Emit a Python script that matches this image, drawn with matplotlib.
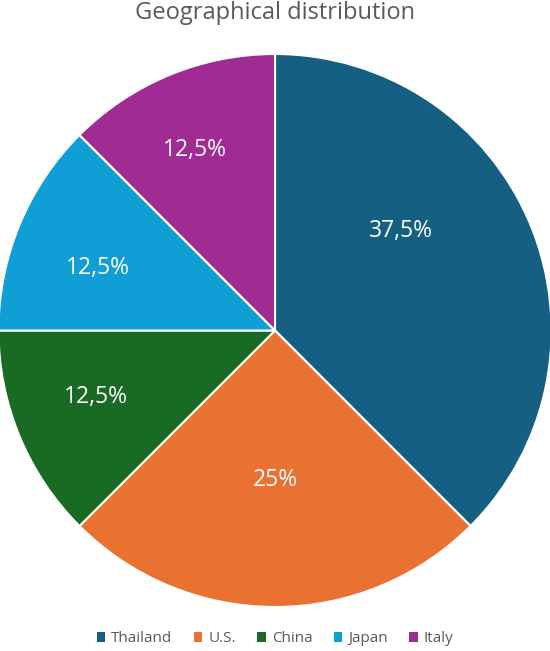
import matplotlib.pyplot as plt
from matplotlib.patches import Patch
import numpy as np

# data
countries = ["Thailand", "U.S.", "China", "Japan", "Italy"]
shares = [37.5, 25, 12.5, 12.5, 12.5]
share_labels = ["37,5%", "25%", "12,5%", "12,5%", "12,5%"]
colors = ["#156082", "#E97132", "#196B24", "#0F9ED5", "#A02B93"]
# label placement (radius fraction, angle offset in degrees) per slice
label_r = [0.58, 0.54, 0.69, 0.68, 0.715]
label_dtheta = [16, 0, -2, 3, 1.5]

plt.rcParams['font.family'] = ['Open Sans', 'DejaVu Sans']

W, H = 550, 651
fig = plt.figure(figsize=(W / 100, H / 100), dpi=100)

# pie axes positioned in pixels
cx, cy, R = 275, 330.5, 276.5
ax = fig.add_axes([(cx - R) / W, (H - cy - R) / H, 2 * R / W, 2 * R / H])

wedges, _ = ax.pie(shares, colors=colors, startangle=90, counterclock=False,
                   radius=1, wedgeprops=dict(edgecolor="white", linewidth=1.5))
ax.set_xlim(-1, 1)
ax.set_ylim(-1, 1)
ax.set_aspect("equal")
ax.axis("off")

for w, lab, r, dt in zip(wedges, share_labels, label_r, label_dtheta):
    theta = np.deg2rad((w.theta1 + w.theta2) / 2 + dt)
    ax.text(r * np.cos(theta), r * np.sin(theta), lab, ha="center", va="center",
            color="white", fontsize=16.5)

fig.text(0.5, 1 - 13 / H, "Geographical distribution", ha="center", va="center",
         fontsize=17, color="#595959")

handles = [Patch(facecolor=c, edgecolor="none") for c in colors]
fig.legend(handles, countries, loc="center", bbox_to_anchor=(0.5, 1 - 639 / H),
           ncol=5, frameon=False, fontsize=11, labelcolor="#595959",
           handlelength=0.55, handleheight=0.55, handletextpad=0.4, columnspacing=1.4)

fig.savefig("out.png", dpi=100)
